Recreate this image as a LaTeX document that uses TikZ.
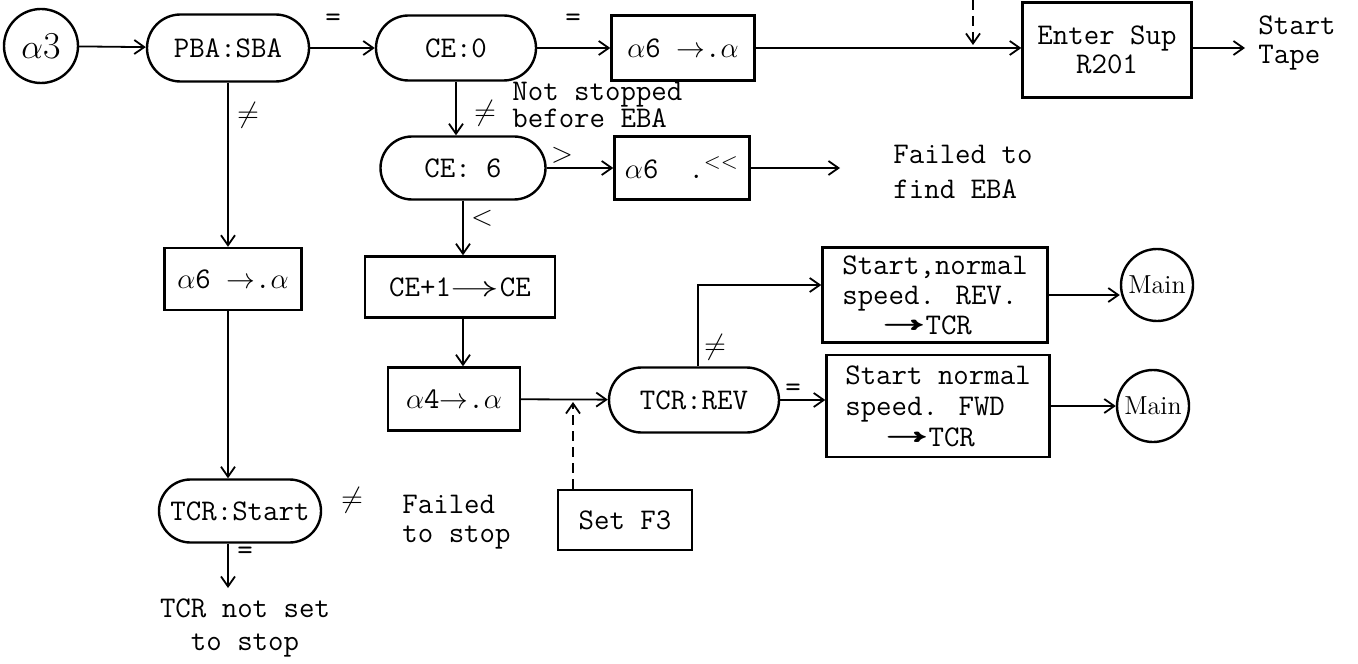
\documentclass[tikz,border=0pt]{standalone}
\usepackage{fontspec}
\usepackage{graphicx}
\usetikzlibrary{arrows.meta,shapes.misc,calc}
\newcommand{\lra}{\scalebox{1.7}[1]{$\rightarrow$}}
\newcommand{\lrt}{\scalebox{2.8}[1]{\textrightarrow}}
\begin{document}
\begin{tikzpicture}[x=0.5pt,y=-0.5pt,
  every node/.style={font=\ttfamily\fontsize{15}{14.5}\selectfont},
  box/.style={draw, line width=1.2pt, inner sep=2pt, align=center},
  term/.style={draw, rounded rectangle, line width=1.2pt, inner sep=2pt},
  circ/.style={draw, circle, line width=1.2pt, inner sep=0pt},
  lab/.style={inner sep=0pt},
  txt/.style={inner sep=0pt},
  arr/.style={line width=0.9pt, -{Straight Barb[length=5pt,width=7pt]}},
  dsh/.style={arr, dash pattern=on 5pt off 3pt}]
\useasboundingbox (0,0) rectangle (1358,663);

% nodes
\node[circ, minimum size=37pt, font=\rmfamily\fontsize{19}{19}\selectfont] (a3) at (41,46) {$\alpha$3};
\node[term, minimum width=85pt, minimum height=33.5pt] (pba) at (228,48) {PBA:SBA};
\node[term, minimum width=84pt, minimum height=32.5pt] (ce0) at (456,48) {CE:0};
\node[box, minimum width=71.5pt, minimum height=32.5pt] (a6t) at (683,48) {$\alpha$6 $\rightarrow$.$\alpha$};
\node[box, minimum width=84.5pt, minimum height=47.5pt] (ent) at (1107,50) {Enter Sup\\R201};
\node[txt, anchor=west, align=left] (tape) at (1258,43) {Start\\Tape};
\coordinate (tapein) at (1245,48);

\node[term, minimum width=86.5pt, minimum height=31.5pt] (ce6) at (463,168) {CE: 6};
\node[box, minimum width=67.5pt, minimum height=31.5pt] (a6m) at (682,168) {$\alpha$6\quad.$^{<<}$};
\coordinate (eba) at (840,168);
\node[txt, anchor=west, align=left, font=\ttfamily\fontsize{15}{17.5}\selectfont] (feba) at (893,172) {Failed to\\find EBA};
\node[txt, anchor=west, align=left, font=\ttfamily\fontsize{15}{12.5}\selectfont] (nstop) at (512,105) {Not stopped\\before EBA};

\node[box, minimum width=68.5pt, minimum height=31pt] (a6l) at (233,279) {$\alpha$6 $\rightarrow$.$\alpha$};
\node[term, minimum width=85pt, minimum height=31.5pt] (tst) at (240,511) {TCR:Start};
\node[txt, align=center, font=\ttfamily\fontsize{15}{16.5}\selectfont] (nset) at (245,628) {TCR not set\\to stop};
\coordinate (nsetin) at (228,588);

\node[box, minimum width=95pt, minimum height=30.5pt] (cep) at (460,287) {CE+1\lra CE};
\node[box, minimum width=66pt, minimum height=31.5pt] (a4) at (454,399) {$\alpha$4$\rightarrow$.$\alpha$};
\node[term, minimum width=89pt, minimum height=32.5pt] (rev) at (694,400) {TCR:REV};
\node[box, minimum width=67pt, minimum height=30pt] (f3) at (625,520) {Set F3};
\node[txt, anchor=west, align=left] (fstop) at (402,522) {Failed\\to stop};
\coordinate (j3) at (573,402);
\coordinate (kk) at (698,285);

\node[box, minimum width=112.5pt, minimum height=47.5pt, align=left, font=\ttfamily\fontsize{15}{15}\selectfont] (srev) at (935,295) {Start,normal\\speed. REV.\\\hspace*{20pt}\lrt TCR};
\node[box, minimum width=111.5pt, minimum height=51pt, align=left, font=\ttfamily\fontsize{15}{15.5}\selectfont] (sfwd) at (938,406) {Start normal\\speed. FWD\\\hspace*{20pt}\lrt TCR};
\node[circ, minimum size=36pt, font=\rmfamily\fontsize{13}{13}\selectfont] (m1) at (1157,285) {Main};
\node[circ, minimum size=36pt, font=\rmfamily\fontsize{13}{13}\selectfont] (m2) at (1153,406) {Main};

% labels
\node[lab] (eq1) at (333,20) {=};
\node[lab] (eq2) at (573,20) {=};
\node[lab] (ne1) at (248,115) {$\neq$};
\node[lab] (ne2) at (485,113) {$\neq$};
\node[lab] (gt) at (562,155) {$>$};
\node[lab] (lt) at (482,218) {$<$};
\node[lab] (ne3) at (715,347) {$\neq$};
\node[lab] (eq3) at (793,390) {=};
\node[lab] (ne4) at (352,500) {$\neq$};
\node[lab] (eq4) at (245,553) {=};

% connectors
\coordinate (dtop) at (973,0);
\coordinate (dbot) at (973,45);
\draw[arr] (a3) -- (pba);
\draw[arr] (pba) -- (ce0);
\draw[arr] (ce0) -- (a6t);
\draw[arr] (a6t.east) -- (a6t.east -| ent.west);
\draw[dsh] (dtop) -- (dbot);
\draw[arr] (ent.east |- tapein) -- (tapein);
\draw[arr] (pba.south) -- (pba.south |- a6l.north);
\draw[arr] (pba.south |- a6l.south) -- (pba.south |- tst.north);
\draw[arr] (tst.south -| nsetin) -- (nsetin);
\draw[arr] (ce0.south) -- (ce0.south |- ce6.north);
\draw[arr] (ce6) -- (a6m);
\draw[arr] (a6m.east) -- (eba);
\draw[arr] (ce6.south) -- (ce6.south |- cep.north);
\draw[arr] (ce6.south |- cep.south) -- (ce6.south |- a4.north);
\draw[arr] (a4) -- (rev);
\draw[dsh] (f3.north -| j3) -- (j3);
\draw[arr] (rev.north -| kk) -- (kk) -- (kk -| srev.west);
\draw[arr] (rev.east) -- (rev.east -| sfwd.west);
\draw[arr] (srev.east) -- (srev.east -| m1.west);
\draw[arr] (sfwd.east) -- (sfwd.east -| m2.west);
\end{tikzpicture}
\end{document}
